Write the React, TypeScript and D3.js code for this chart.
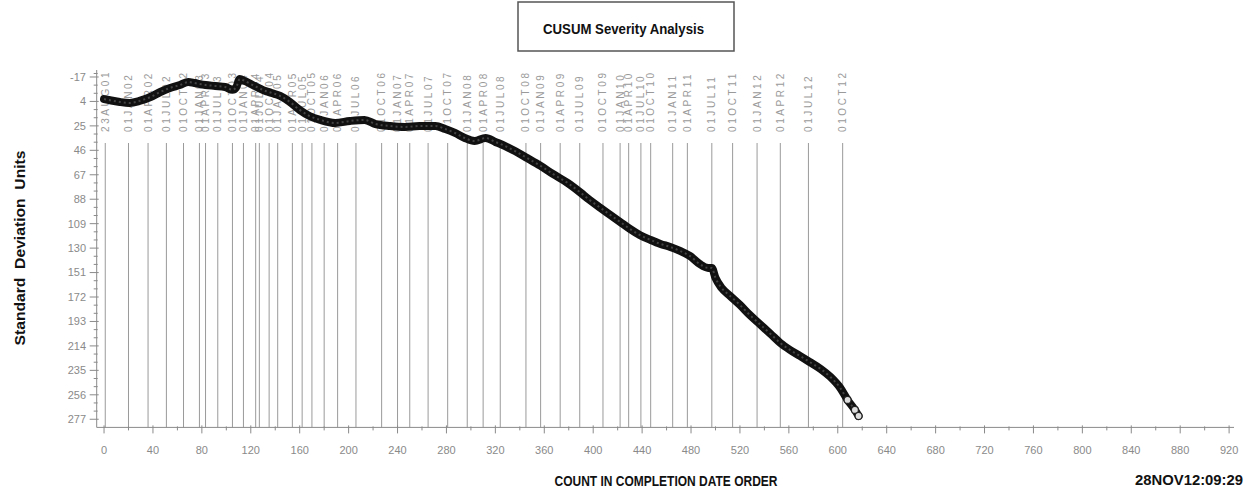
import React from "react";
import * as d3 from "d3";

const W = 1247;
const H = 491;

// x axis ticks (count in completion date order)
const xTicks = [0, 40, 80, 120, 160, 200, 240, 280, 320, 360, 400, 440, 480, 520, 560, 600, 640, 680, 720, 760, 800, 840, 880, 920];
// y axis ticks (standard deviation units, inverted)
const yTicks = [-17, 4, 25, 46, 67, 88, 109, 130, 151, 172, 193, 214, 235, 256, 277];

// reference date lines
const dateLabels = ["23AUG01", "01JAN02", "01APR02", "01JUL02", "01OCT02", "01JAN03", "01APR03", "01JUL03", "01OCT03", "01JAN04", "01APR04", "01JUL04", "01OCT04", "01JAN05", "01APR05", "01JUL05", "01OCT05", "01JAN06", "01APR06", "01JUL06", "01OCT06", "01JAN07", "01APR07", "01JUL07", "01OCT07", "01JAN08", "01APR08", "01JUL08", "01OCT08", "01JAN09", "01APR09", "01JUL09", "01OCT09", "01JAN10", "01APR10", "01JUL10", "01OCT10", "01JAN11", "01APR11", "01JUL11", "01OCT11", "01JAN12", "01APR12", "01JUL12", "01OCT12"];
const dateCounts = [1, 20, 36, 51, 65, 78, 83, 93, 105, 114, 124, 127, 135, 142, 154, 162, 170, 180, 191, 206, 227, 240, 250, 265, 281, 297, 310, 324, 345, 357, 373, 389, 408, 422, 429, 439, 447, 465, 477, 497, 514, 534, 553, 576, 604];

// CUSUM series (count, value)
const cusumCount = [0, 5, 13, 21, 29, 38, 46, 54, 62, 69, 74, 83, 91, 99, 105, 108, 111, 115, 123, 132, 137, 144, 152, 160, 168, 177, 189, 201, 213, 222, 234, 246, 258, 271, 279, 287, 295, 303, 312, 320, 328, 336, 346, 357, 367, 379, 389, 397, 406, 414, 422, 430, 438, 447, 455, 463, 471, 479, 487, 494, 497, 500, 505, 512, 520, 528, 536, 545, 553, 561, 569, 577, 586, 594, 602, 608, 614, 617];
const cusumValue = [2, 3, 4.5, 5.3, 3.6, 0.2, -4.1, -7.6, -10.1, -12.7, -11.8, -10.1, -9.3, -8.4, -6, -8, -15.3, -13.6, -9.3, -5, -3.3, -0.7, 4.5, 11.3, 16.5, 19.9, 22.5, 20.8, 19.9, 23.4, 25.1, 25.9, 25.1, 25.1, 27.7, 31.1, 35.4, 38, 35.4, 38.8, 42.3, 46.6, 52.6, 59.4, 66.3, 74, 81.8, 88.6, 95.5, 101.5, 107.5, 113.5, 118.7, 123, 126.4, 129, 132.4, 136.7, 143.6, 147, 147, 155.6, 164.2, 171.1, 178.8, 187.4, 195.1, 203.7, 211.5, 217.5, 222.6, 227.8, 233.8, 240.7, 250.1, 260.4, 269, 274.2];

export default function App() {
  const x = d3.scaleLinear().domain([-6, 924]).range([96.7, 1234]);
  const y = d3.scaleLinear().domain([-23, 284]).range([70, 427.4]);
  const x0 = x(-6);
  const yBase = y(284);
  const yTop = y(-23);

  const pts: [number, number][] = cusumCount.map((c, i) => [c, cusumValue[i]]);
  const line = d3.line<[number, number]>().x(d => x(d[0])).y(d => y(d[1])).curve(d3.curveMonotoneX);
  const pathD = line(pts) || "";

  const xMinor = d3.range(20, 920, 40);
  const yMinor: number[] = [];
  for (let i = 0; i < yTicks.length - 1; i++) {
    yMinor.push(yTicks[i] + 7, yTicks[i] + 14);
  }
  yMinor.push(-24 + 4);

  const gray = "#8a8a8a";
  const lineGray = "#9a9a9a";

  return (
    <svg width={W} height={H} style={{ position: "absolute", left: 0, top: 0, background: "#fff" }} fontFamily="'Liberation Sans', Arial, sans-serif">
      {/* title */}
      <rect x={518} y={2} width={216} height={49} fill="none" stroke="#555" strokeWidth={1.5} />
      <text x={623.5} y={34} textAnchor="middle" fontSize={15} fontWeight="bold" textLength={161} lengthAdjust="spacingAndGlyphs" fill="#111">CUSUM Severity Analysis</text>

      {/* date reference lines */}
      {dateCounts.map((c, i) => (
        <line key={"dl" + i} x1={x(c)} x2={x(c)} y1={143} y2={yBase} stroke={lineGray} strokeWidth={1} />
      ))}
      {dateLabels.map((lab, i) => (
        <text key={"dt" + i} transform={`translate(${x(dateCounts[i])},132) rotate(-90)`} dy="0.35em" fontSize={10} letterSpacing={2.6} fill="#9a9a9a">{lab}</text>
      ))}

      {/* axes */}
      <line x1={x0} x2={x0} y1={yTop} y2={yBase} stroke={gray} strokeWidth={1} />
      <line x1={x0} x2={1234} y1={yBase} y2={yBase} stroke={gray} strokeWidth={1} />
      {yTicks.map(t => (
        <g key={"yt" + t}>
          <line x1={x0 - 7} x2={x0 + 2} y1={y(t)} y2={y(t)} stroke={gray} />
          <text x={86} y={y(t)} dy="0.35em" textAnchor="end" fontSize={11} fill={gray}>{t}</text>
        </g>
      ))}
      {yMinor.map((t, i) => (
        <line key={"ym" + i} x1={x0 - 3} x2={x0 + 1} y1={y(t)} y2={y(t)} stroke={gray} />
      ))}
      {xTicks.map(t => (
        <g key={"xt" + t}>
          <line x1={x(t)} x2={x(t)} y1={yBase - 2} y2={yBase + 6} stroke={gray} />
          <text x={x(t)} y={454} textAnchor="middle" fontSize={11} fill={gray}>{t}</text>
        </g>
      ))}
      {xMinor.map((t, i) => (
        <line key={"xm" + i} x1={x(t)} x2={x(t)} y1={yBase - 1} y2={yBase + 3} stroke={gray} />
      ))}

      {/* CUSUM curve */}
      <path d={pathD} fill="none" stroke="#111" strokeWidth={8} strokeLinejoin="round" strokeLinecap="round" />
      <path d={pathD} fill="none" stroke="#444" strokeWidth={2} strokeDasharray="2 3" strokeLinejoin="round" />
      {pts.slice(-3).map((d, i) => (
        <circle key={"c" + i} cx={x(d[0])} cy={y(d[1])} r={3.5} fill="#ddd" stroke="#222" strokeWidth={1.2} />
      ))}

      {/* axis titles */}
      <text transform="translate(25,248) rotate(-90)" textAnchor="middle" fontSize={14} fontWeight="bold" textLength={195} lengthAdjust="spacingAndGlyphs" fill="#111" style={{ whiteSpace: "pre" }}>Standard  Deviation  Units</text>
      <text x={666} y={486} textAnchor="middle" fontSize={14} fontWeight="bold" textLength={223} lengthAdjust="spacingAndGlyphs" fill="#111">COUNT IN COMPLETION DATE ORDER</text>
      <text x={1135} y={485} fontSize={14} fontWeight="bold" textLength={108} lengthAdjust="spacingAndGlyphs" fill="#111">28NOV12:09:29</text>
    </svg>
  );
}
